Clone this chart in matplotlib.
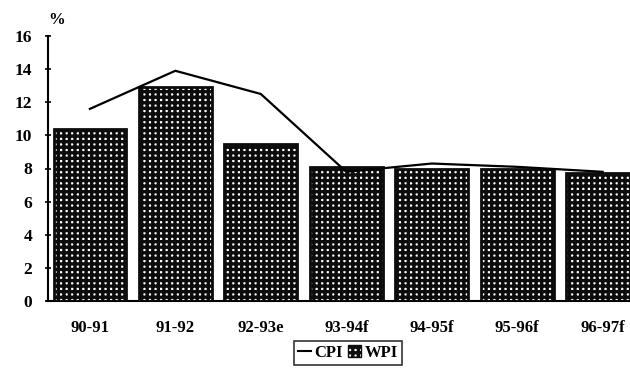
import matplotlib
matplotlib.use("Agg")
import matplotlib.pyplot as plt
from matplotlib.lines import Line2D
from matplotlib.patches import Patch

categories = ["90-91", "91-92", "92-93e", "93-94f", "94-95f", "95-96f", "96-97f"]
wpi = [10.4, 12.9, 9.5, 8.1, 8.0, 8.0, 7.7]
cpi = [11.6, 13.9, 12.5, 7.8, 8.3, 8.1, 7.8]
yticks = [0, 2, 4, 6, 8, 10, 12, 14, 16]

plt.rcParams['font.family'] = ['Liberation Serif', 'DejaVu Serif']
plt.rcParams['font.weight'] = 'bold'
plt.rcParams['hatch.linewidth'] = 2.4

fig = plt.figure(figsize=(6.3, 3.68), dpi=100)
ax = fig.add_axes([48/630, 67/368, 582/630, 265/368])

x = list(range(len(categories)))
ax.bar(x, wpi, width=0.85, color='white', edgecolor='#0c0c0c', hatch='+++', linewidth=0, zorder=2)
ax.bar(x, wpi, width=0.85, fill=False, edgecolor='#0c0c0c', linewidth=2, zorder=3)
ax.plot(x, cpi, color='black', linewidth=1.6, zorder=4)

ax.set_xlim(-0.49, 6.32)
ax.set_ylim(0, 16)
ax.set_yticks(yticks)
ax.set_yticklabels([str(t) for t in yticks], fontsize=12.5, fontweight='bold')
ax.set_xticks(x)
ax.set_xticklabels(categories, fontsize=12, fontweight='bold')
ax.tick_params(axis='x', length=0, pad=14)
ax.tick_params(axis='y', length=5, direction='inout', pad=9, width=1.2)
for s in ['top', 'right']:
    ax.spines[s].set_visible(False)
ax.spines['left'].set_linewidth(1.5)
ax.spines['bottom'].set_linewidth(1.5)
ax.spines['bottom'].set_bounds(-0.5, 6.32)

fig.text(57/630, 1-20/368, "%", fontsize=12, fontweight='bold', ha='center', va='center')

handles = [Line2D([0], [0], color='black', linewidth=1.5),
           Patch(facecolor='white', edgecolor='#0c0c0c', hatch='+++')]
leg = fig.legend(handles, ["CPI", "WPI"], loc='upper center',
                 bbox_to_anchor=(348/630, 1-341/368), ncol=2, frameon=True,
                 fancybox=False, edgecolor='black', fontsize=12,
                 handlelength=0.8, handletextpad=0.2, columnspacing=0.3,
                 borderpad=0.25, handleheight=0.7, borderaxespad=0)
leg.get_frame().set_linewidth(1.2)

fig.savefig("out.png", dpi=100, facecolor='white')
